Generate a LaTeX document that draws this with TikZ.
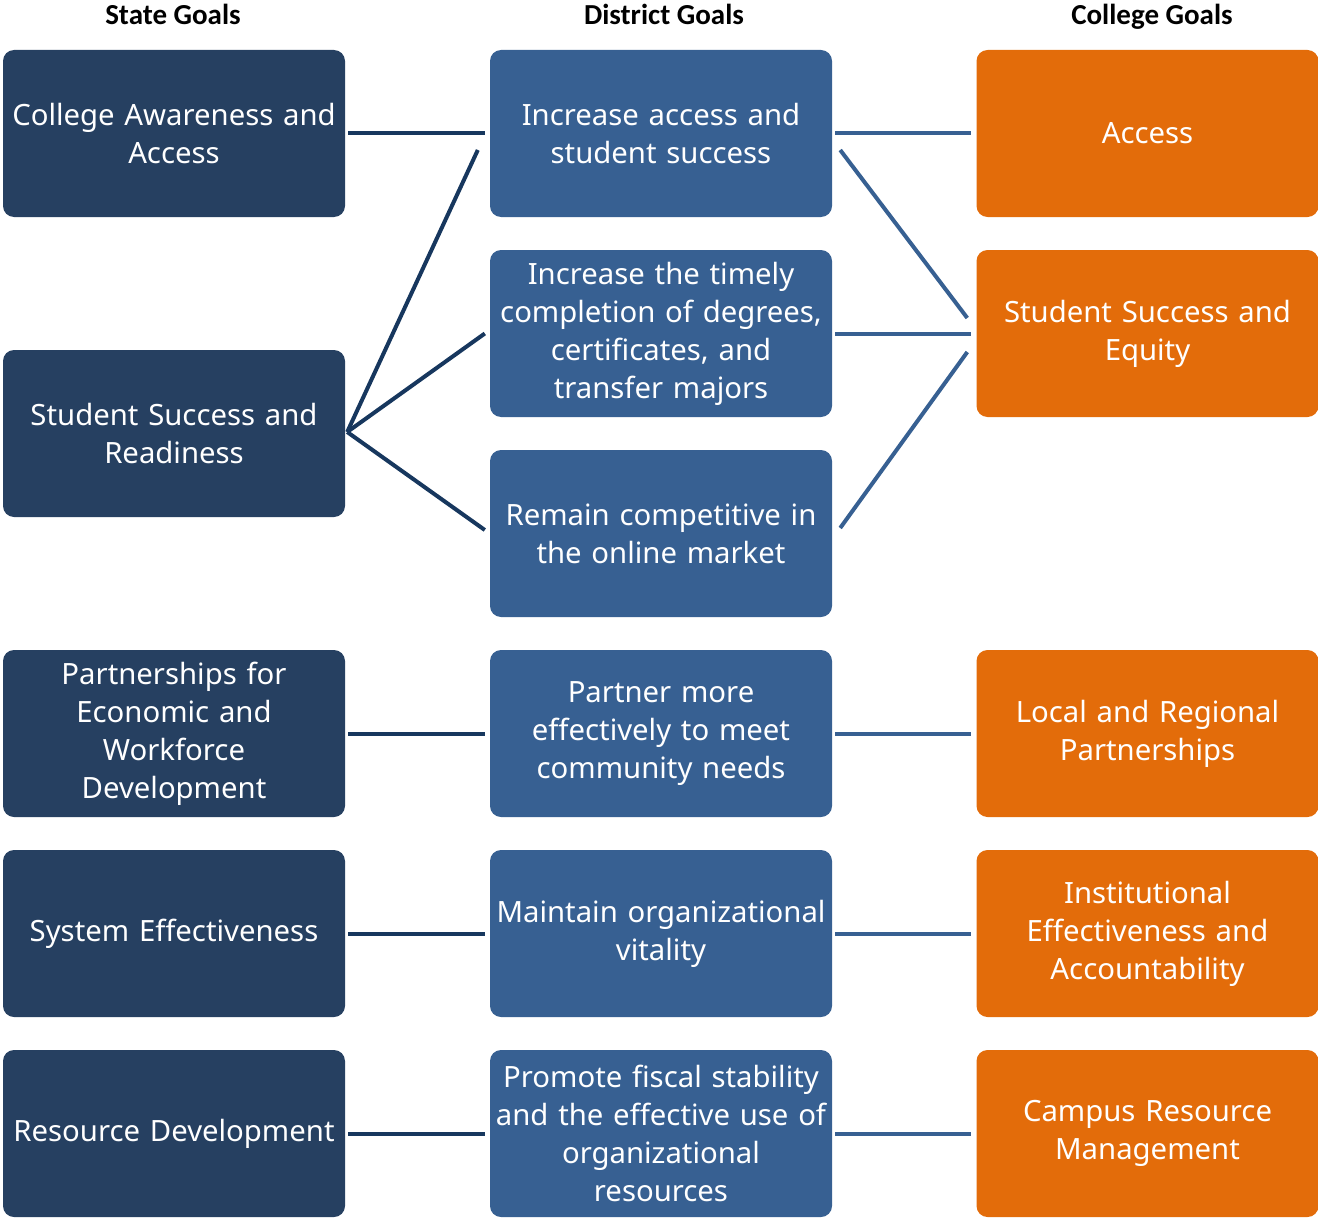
\documentclass[tikz,border=0pt]{standalone}
\usepackage{fontspec}
\setmainfont{Noto Sans}
\newfontfamily\headfont{Carlito}
\definecolor{statec}{HTML}{264061}
\definecolor{distc}{HTML}{376092}
\definecolor{collc}{HTML}{E36C0A}
\definecolor{sline}{HTML}{17375E}
\definecolor{dline}{HTML}{376092}
\begin{document}
\begin{tikzpicture}[x=1pt,y=-1pt,
  box/.style={rounded corners=11pt, minimum width=342pt, minimum height=167pt, inner sep=0pt,
    text width=340pt, align=center, text=white, font=\fontsize{29.3}{38}\selectfont},
  sbox/.style={box, fill=statec},
  dbox/.style={box, fill=distc},
  cbox/.style={box, fill=collc},
  head/.style={font=\headfont\bfseries\fontsize{29}{32}\selectfont, text=black, anchor=base},
  sl/.style={draw=sline, line width=4pt},
  dl/.style={draw=dline, line width=4pt}]
\useasboundingbox (0,0) rectangle (1318,1220);
\node[head] (h1) at (173,25) {State Goals};
\node[head] (h2) at (664,25) {District Goals};
\node[head] (h3) at (1152,25) {College Goals};
% state
\node[sbox] (s1) at (174,133.5) {College Awareness and\\Access};
\node[sbox] (s2) at (174,433.5) {Student Success and\\Readiness};
\node[sbox] (s3) at (174,733.5) {Partnerships for\\Economic and\\Workforce\\Development};
\node[sbox] (s4) at (174,933.5) {System Effectiveness};
\node[sbox] (s5) at (174,1133.5) {Resource Development};
% district
\node[dbox] (d1) at (661,133.5) {Increase access and\\student success};
\node[dbox] (d2) at (661,333.5) {Increase the timely\\completion of degrees,\\certificates, and\\transfer majors};
\node[dbox] (d3) at (661,533.5) {Remain competitive in\\the online market};
\node[dbox] (d4) at (661,733.5) {Partner more\\effectively to meet\\community needs};
\node[dbox] (d5) at (661,933.5) {Maintain organizational\\vitality};
\node[dbox] (d6) at (661,1133.5) {Promote fiscal stability\\and the effective use of\\organizational\\resources};
% college
\node[cbox] (c1) at (1147.5,133.5) {Access};
\node[cbox] (c2) at (1147.5,333.5) {Student Success and\\Equity};
\node[cbox] (c3) at (1147.5,733.5) {Local and Regional\\Partnerships};
\node[cbox] (c4) at (1147.5,933.5) {Institutional\\Effectiveness and\\Accountability};
\node[cbox] (c5) at (1147.5,1133.5) {Campus Resource\\Management};
% state -> district
\draw[sl] ([xshift=3]s1.east) -- ([xshift=-5]d1.west);
\draw[sl] ([shift={(2,-1.5)}]s2.east) -- ([shift={(-12,16.5)}]d1.west);
\draw[sl] ([shift={(2,-1.5)}]s2.east) -- ([xshift=-5]d2.west);
\draw[sl] ([shift={(2,-1.5)}]s2.east) -- ([shift={(-5,-3.5)}]d3.west);
\draw[sl] ([xshift=3]s3.east) -- ([xshift=-5]d4.west);
\draw[sl] ([xshift=3]s4.east) -- ([xshift=-5]d5.west);
\draw[sl] ([xshift=3]s5.east) -- ([xshift=-5]d6.west);
% district -> college
\draw[dl] ([xshift=3]d1.east) -- ([xshift=-5]c1.west);
\draw[dl] ([shift={(8,16.5)}]d1.east) -- ([shift={(-9,-15.5)}]c2.west);
\draw[dl] ([xshift=3]d2.east) -- ([xshift=-5]c2.west);
\draw[dl] ([shift={(8,-5.5)}]d3.east) -- ([shift={(-9,18.5)}]c2.west);
\draw[dl] ([xshift=3]d4.east) -- ([xshift=-5]c3.west);
\draw[dl] ([xshift=3]d5.east) -- ([xshift=-5]c4.west);
\draw[dl] ([xshift=3]d6.east) -- ([xshift=-5]c5.west);
\end{tikzpicture}
\end{document}
